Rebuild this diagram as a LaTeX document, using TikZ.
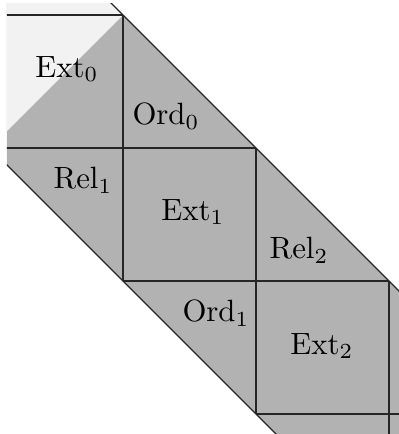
\documentclass[tikz,border=0pt]{standalone}
\begin{document}
\begin{tikzpicture}[x=0.3247pt,y=-0.3247pt,
  gridline/.style={line width=0.4pt,black!85},
  lbl/.style={inner sep=0pt}]
\useasboundingbox (0,0) rectangle (399,434);
\begin{scope}
\clip (7,3) rectangle (420,450);
% band
\fill[black!30] (-60,-168) -- (480,372) -- (480,638) -- (-60,98) -- cycle;
% light part
\fill[black!5] (123,15) -- (-10,148) -- (-60,98) -- (-60,-168) -- cycle;
% grid lines
\draw[gridline] (-60,15) -- (123,15);
\draw[gridline] (-10,148) -- (256,148);
\draw[gridline] (123,281) -- (389,281);
\draw[gridline] (256,414) -- (480,414);
\draw[gridline] (123,15) -- (123,281);
\draw[gridline] (256,148) -- (256,414);
\draw[gridline] (389,281) -- (389,480);
% band edges
\draw[gridline] (-60,-168) -- (480,372);
\draw[gridline] (-60,98) -- (480,638);
\end{scope}
\node[lbl] (ext0) at (67,69) {$\mathrm{Ext}_0$};
\node[lbl] (ord0) at (166,116) {$\mathrm{Ord}_0$};
\node[lbl] (rel1) at (83,180) {$\mathrm{Rel}_1$};
\node[lbl] (ext1) at (193,212) {$\mathrm{Ext}_1$};
\node[lbl] (rel2) at (299,250) {$\mathrm{Rel}_2$};
\node[lbl] (ord1) at (216,313) {$\mathrm{Ord}_1$};
\node[lbl] (ext2) at (322,346) {$\mathrm{Ext}_2$};
\end{tikzpicture}
\end{document}
